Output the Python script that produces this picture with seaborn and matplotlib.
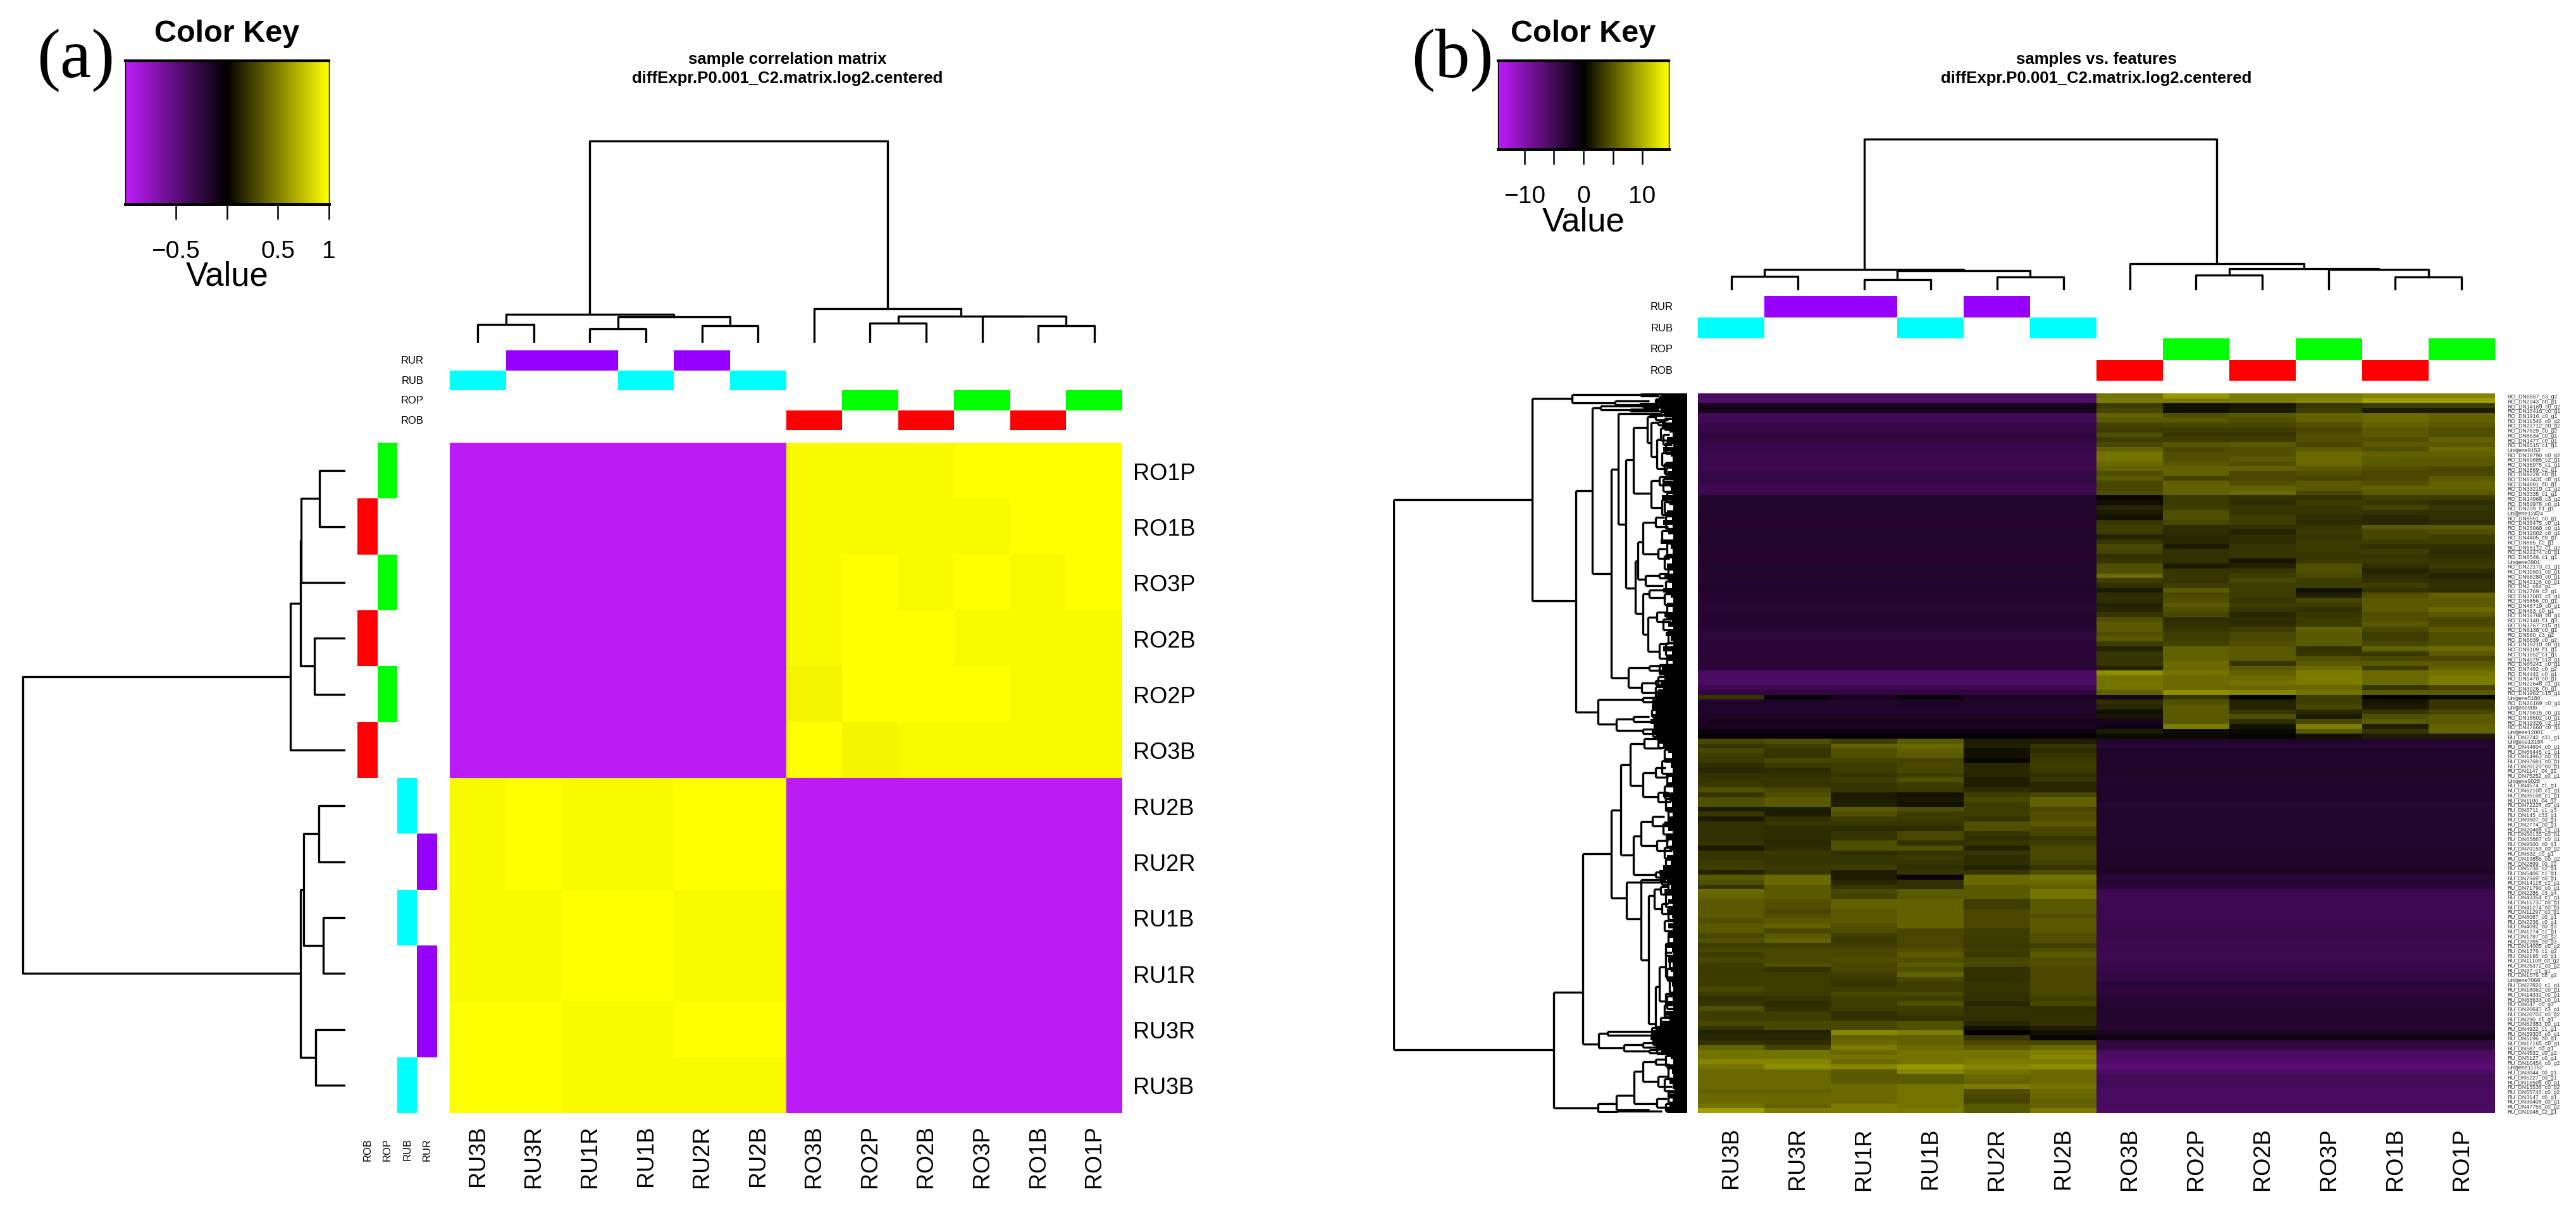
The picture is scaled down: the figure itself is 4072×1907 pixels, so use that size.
import numpy as np
import matplotlib
matplotlib.use("Agg")
import matplotlib.pyplot as plt
from matplotlib.colors import LinearSegmentedColormap, ListedColormap
import seaborn as sns

W, H = 4073, 1908

# ---------- panel (a) data ----------
a_cols = ["RU3B", "RU3R", "RU1R", "RU1B", "RU2R", "RU2B", "RO3B", "RO2P", "RO2B", "RO3P", "RO1B", "RO1P"]
a_rows = ["RO1P", "RO1B", "RO3P", "RO2B", "RO2P", "RO3B", "RU2B", "RU2R", "RU1B", "RU1R", "RU3R", "RU3B"]
a_anti = -0.98
a_ro_block = [[.975, .975, .975, 1, 1, 1],
              [.975, .975, .975, .975, 1, 1],
              [.975, 1, .975, 1, .975, 1],
              [.975, 1, 1, .975, .975, .975],
              [.955, 1, 1, 1, .975, .975],
              [1, .955, .975, .975, .975, .975]]
a_ru_block = [[.975, 1, .975, .975, 1, 1],
              [.975, 1, .975, .975, 1, 1],
              [.975, .975, 1, 1, .975, .975],
              [.975, .975, 1, 1, .975, .975],
              [1, 1, .975, .975, 1, 1],
              [1, 1, .975, .975, .975, .975]]

# dendrograms: (height, left, right); an int is a leaf position
a_col_tree = (321, (45, (29, 0, 1), (41, (22, 2, 3), (27, 4, 5))),
              (54, 6, (42.5, (31, 7, 8), (42, 9, (27, 10, 11)))))
a_row_tree = (512, (87, (71.5, (70, (41, 0, 1), 2), (49.5, 3, 4)), 5),
              (71, (66, (42, 6, 7), (35, 8, 9)), (47, 10, 11)))
b_col_tree = (241.5, (33.5, (22, 0, 1), (31, (17, 2, 3), (21, 4, 5))),
              (42, 6, (34.5, (24, 7, 8), (33.5, 9, (21, 10, 11)))))

# ---------- panel (b) data ----------
b_cols = ["RU3B", "RU3R", "RU1R", "RU1B", "RU2R", "RU2B", "RO3B", "RO2P", "RO2B", "RO3P", "RO1B", "RO1P"]
groups = ["RUR", "RUB", "ROP", "ROB"]
group_colors = ["#9600FF", "#00FFFF", "#00FF00", "#FF0000"]

upper_ru = [-5.6, -6, -1.8, -1.8, -4.9, -4.9, -4.4, -4, -3.6, -3.8, -4.1, -4.3, -4.6, -4.6, -4.7, -4.7, -4, -3.8, -4.1, -4.7, -4.6,
            -2.7, -2.7, -2.7, -2.5, -2.5, -2.7, -2.8, -2.7, -2.6, -2.6, -2.7, -2.7, -2.8, -2.8, -2.6, -2.7,
            -2.7, -2.7, -2.5, -2.3, -2.8, -2.8, -2.9, -2.9, -2.8, -2.8, -2.8, -3.1, -3.5, -3.4, -3.3, -3.5, -3.3, -3.1, -3.1, -3.3,
            -5.5, -5.7, -5.7, -4.7, -3.7]
upper_ro = [[6.5, 8.5, 7, 7, 7.5, 7.5], [7, 7, 7, 7.5, 9, 9], [3.5, 1, 1.2, 3, 3.5, 3.5], [4, 1, 1.5, 3.5, 1.5, 1.5],
            [5.5, 4.5, 5, 5.5, 6, 5.5], [5, 5, 4.5, 5.5, 6, 5.5], [3.8, 4, 4, 4.5, 5.5, 5], [3.5, 3.5, 3.5, 4, 5, 4.5],
            [4.5, 3, 3, 4.5, 5, 4.5], [3.5, 3.5, 3.5, 4.5, 4.5, 5.5], [4, 4.8, 5, 4, 5, 5], [5.5, 4, 4.5, 5, 4.5, 6],
            [6.5, 4.5, 4.5, 6, 5.5, 5.5], [6.5, 4.5, 5, 6, 5, 5], [6, 5, 4.5, 6, 5, 5], [5.5, 5.5, 5.5, 5, 4.5, 4],
            [4.5, 5.5, 4, 4.5, 4, 4], [5, 3.8, 4, 4, 4, 5], [4, 5.5, 4.5, 5, 4.5, 5.5], [4, 5.5, 5.5, 5, 5.5, 5.5],
            [4.5, 5.5, 6, 4, 5, 5], [.4, 3.2, 2.8, 2.8, 3.5, 3.5], [.8, 3.2, 2.5, 3.5, 3, 2.5], [2, 3.5, 3, 3, 3.8, 3],
            [1.5, 4.5, 3, 3, 2.8, 2.8], [1, 4.5, 3.5, 2.8, 2.2, 2.8], [3, 4, 3.5, 2.5, 2.2, 2.5], [3.5, 2.5, 2.8, 3, 5, 5],
            [3.5, 2.5, 2, 3.2, 4, 4.5], [2, 2.2, 2.5, 3, 4, 3.5], [3, 2.2, 2.5, 3.2, 3.5, 3.5], [4, 1.5, 3, 3.2, 2.8, 2.8],
            [3.8, 2.8, 3, 3.2, 3.5, 2.5], [2.8, 2.8, 3, 3, 3, 2.8], [3, 2.8, 1.2, 3.2, 3.2, 3], [4.5, 1.5, 2, 4.5, 2.5, 3.2],
            [4.5, 3, 3, 4.5, 2, 2.5], [6, 3, 3.5, 4, 2.5, 2], [3.5, 3, 4, 3.5, 2.8, 2.5], [2.8, 3.5, 3.5, 3.5, 3.5, 2.8],
            [1.5, 5, 3.5, 1, 2.8, 2.5], [2.5, 4, 3.5, 1.8, 4.5, 5.5], [2.5, 4.5, 3, 4, 5, 5], [2, 5, 3.5, 3.2, 5, 5],
            [2.2, 4.5, 3, 2.8, 5, 6], [3, 4, 2.2, 3, 4.5, 5], [4.5, 2.5, 2.5, 3.5, 4.5, 4], [5, 2.8, 2.5, 3.5, 5, 4],
            [5, 3, 3.5, 5.5, 4, 5], [4.5, 3.5, 4, 5, 3.5, 4.5], [5, 3.5, 4, 5, 3.5, 4.5], [3.5, 3.8, 4.5, 5, 4, 4.5],
            [2, 5.5, 5, 2.8, 5.5, 6], [3, 5.5, 5, 3, 3.2, 5], [3, 5.5, 5, 4.5, 4, 4], [3, 6, 3, 5, 5, 5],
            [2, 6, 5, 6, 3.5, 5.5], [8, 6.5, 5.5, 7, 6, 6.5], [6.5, 6, 6, 7, 6, 7], [6.5, 6, 6.5, 7, 6, 7],
            [6.5, 6, 6, 6, 3, 4], [5.5, 8, 7.5, 6.5, 5, 5]]
mid_rows = [[3, -.5, -1.8, -.5, -2.2, -2.2, -1.5, 3, .1, 3.5, .1, .5],
            [-2.4, -2.4, -2.4, -2.2, -2.4, -2.4, 2.5, 4.5, 2, 3.5, 1.2, 3],
            [-2.4, -2.4, -2.4, -2.4, -2.4, -2.4, 2.2, 5, 2, 4, 1.5, 3],
            [-2.6, -2.6, -2.6, -2.6, -2.6, -2.6, 1, 5, 3, 2.2, 3, 4],
            [-2, -2, -2, -2, -2, -2, 1.2, 5, 4.5, 1.5, 4.5, 5],
            [-1.8, -1.8, -1.8, -1.8, -1.8, -1.8, -1.8, 5, 2.5, 4, 5, 5],
            [-2, -2, -2, -2, -2, -2, -1.2, 7, 1, 7, 1.8, 5.5],
            [-.8, -.8, -.8, -.8, -.8, -.8, 1.5, .6, .5, 5, 3, 5.5],
            [-.3, -.3, -.3, -.3, -.3, -.3, .6, .6, .2, 1, 1.5, 1.5]]
lower_ru = [[4, 4.5, 3.5, 5, 1.5, 1.5], [3, 3.5, 5.5, 6, 1.8, 3], [4, 3, 4.5, 5.5, 1, 2.5], [3.5, 3, 4.5, 5, 1, 3],
            [3.2, 4, 3.8, 3.8, .4, 3.2], [2.5, 3.2, 3.5, 4, 2.2, 3.5], [2.2, 2.5, 3.5, 4, 2.2, 3.2], [2.8, 2.8, 3, 3.5, 2.2, 2.8],
            [3, 3, 3.5, 4.5, 1.8, 3], [3.2, 3, 3, 3.5, 1.8, 2.2], [4.5, 4, 3, 3.2, 2.5, 2.2], [3, 4.5, 1.5, 1, 3.5, 4],
            [4.5, 5, 1.5, 1.2, 4, 5.5], [4.5, 5, 1.8, 1, 3.5, 5.5], [1.5, 1.5, 5, 4.5, 3.5, 4], [3, 1.5, 4.5, 3.5, 3.5, 4.5],
            [1.5, 2.8, 3.5, 3.2, 3, 4.5], [2.8, 3, 3, 3, 4.5, 5], [2.8, 2.5, 2.5, 2.5, 4.5, 4], [2.8, 2.5, 3, 4, 3, 4],
            [2.8, 2.5, 3, 4, 2.8, 3], [3, 2.2, 4.5, 2.8, 3, 3.5], [1.5, 2.5, 4.5, 4.5, 2, 4], [3, 3.2, 2.5, 3, 3, 4],
            [3, 3, 3, 3.2, 2.5, 4], [3.2, 3, 3, 3, 2.5, 3.8], [3.5, 3.2, 3.5, 2.8, 2, 3], [2, 3, 1.5, 3, 3, 4.5],
            [5, 6, 1.5, -.8, 6, 6.5], [4.5, 6, 2.2, 2.8, 6, 6], [3, 5, 3, 2.8, 5, 5.5], [6, 5, 4, 5, 5, 6.5],
            [5.5, 5, 3.8, 5, 5, 6.5], [5, 4.5, 5.5, 5.5, 3.5, 5], [5, 4.5, 5.5, 5.5, 3.5, 5], [5, 4, 5, 5.5, 4, 5],
            [5, 4.5, 5, 5.5, 4, 4.5], [4.5, 5, 5, 5.5, 4, 5], [5, 5.5, 4.5, 5.5, 4, 5], [5, 4, 4.5, 4, 3.5, 5],
            [4, 5, 3.5, 4, 3.5, 4.5], [4.5, 5.5, 3.2, 4, 3.5, 4.5], [3.5, 3.5, 3.5, 4, 3.2, 3.5], [4, 4, 4, 4.5, 3.5, 4.5],
            [3.5, 4, 4, 5, 3.2, 5], [4, 4, 4.5, 4.5, 4, 4.5], [3.5, 4.5, 4, 5, 4, 4.5], [3.2, 2.8, 4, 4.5, 2.8, 4],
            [3.2, 3.5, 3.5, 5.5, 2.8, 4], [3.5, 3.5, 3.2, 4, 2.8, 4], [3.5, 3.5, 3, 3.5, 3, 4], [4, 3.5, 3.5, 3.5, 3, 4],
            [3.5, 3.2, 4, 4, 2.8, 4], [2.8, 3, 3.5, 3.5, 2.8, 3.5], [3, 2.5, 3.5, 4.5, 2.2, 4], [4.5, 2.8, 3.5, 3.5, 2.8, 2.5],
            [3.5, 3.5, 2.8, 3.2, 2.8, 2.8], [3.5, 3.5, 2.8, 2.8, 2.8, 2.8], [4, 4, 4, 4.5, 2.2, 2.8], [3, 4, 4, 4.5, 1, 1.8],
            [2, 2, 7.5, 7, -.3, 1], [2.2, 2.2, 5.5, 5.5, 3, -.5], [2.8, 2.5, 6, 5.5, 4, 4], [5.5, 3.8, 7, 6, 5, 6],
            [6.5, 6.5, 6, 6.5, 6.5, 7], [6.5, 6.5, 6.5, 6.5, 6.5, 7.5], [7.5, 7.5, 6, 6.5, 7, 7], [6.5, 8, 7.5, 8.5, 7.5, 8],
            [6, 6, 5, 7.5, 6.5, 6], [6, 6, 5, 5, 6, 6], [6, 6, 5, 5, 5.5, 6], [6, 6, 6, 6.5, 7, 6.5],
            [5.5, 5.5, 6, 6.5, 4.5, 6], [6, 6, 6, 6.5, 4, 6], [6, 6, 6, 6.5, 3.8, 5.5], [6.5, 5.5, 7, 6.5, 5, 5.5],
            [9, 7, 7, 7, 5, 7]]
lower_ro = [-2.4, -3, -2.4, -2.4, -2.4, -2.4, -2.4, -2.3, -2.5, -2.5, -2.4, -2.4, -2.4, -3, -2.7, -2.7, -2.7, -2.6, -2.6, -2.6,
            -2.6, -2.6, -2.5, -2.3, -2.3, -2.4, -2.4, -2.2, -3.2, -3, -3.3, -4.6, -4.7, -4.7, -4.7, -4.7, -4.7, -4.7, -4.6, -4.4,
            -4.4, -4.6, -4.6, -4.6, -4.7, -4.6, -4.4, -4.4, -3.9, -3.9, -3.3, -3.6, -3.5, -3, -2.8, -2.8, -2.7, -2.7, -2.8, -2.7,
            -2, -1.2, -3.8, -3.8, -5.5, -5.8, -6.3, -6.8, -5.8, -5, -5, -5.3, -5.5, -5.5, -5.5, -5.5, -5.8]

b_row_labels = """RO_DN6667_c3_g2 RO_DN2043_c0_g1 RO_DN14169_c0_g2 RO_DN15416_c0_g1 RO_DN1916_c0_g1 RO_DN11546_c0_g2
RO_DN22712_c0_g2 RO_DN7829_c0_g2 RO_DN8634_c0_g1 RO_DN1477_c0_g1 RO_DN6515_c1_g1 Unigene9153 RO_DN39790_c0_g2
RO_DN60885_c2_g1 RO_DN35975_c1_g1 RO_DN2869_c2_g1 RO_DN9229_c0_g1 RO_DN63431_c0_g1 RO_DN4991_c0_g1 RO_DN33219_c1_g2
RO_DN3335_c1_g1 RO_DN14968_c3_g2 RO_DN80978_c0_g1 RO_DN209_c1_g1 Unigene12424 RO_DN8551_c0_g1 RO_DN38475_c0_g1
RO_DN26068_c0_g1 RO_DN12602_c0_g1 RO_DN4405_c9_g1 RO_DN885_c2_g1 RO_DN55172_c1_g2 RO_DN22274_c0_g1 RO_DN6546_c1_g1
Unigene3901 RO_DN22173_c1_g1 RO_DN11501_c0_g1 RO_DN68280_c0_g1 RO_DN42116_c0_g1 RO_DN2_c84_g1 RO_DN2769_c2_g1
RO_DN37001_c1_g1 RO_DN5856_c0_g1 RO_DN45719_c0_g1 RO_DN463_c0_g1 RO_DN16768_c0_g1 RO_DN2140_c1_g3 RO_DN3767_c15_g1
RO_DN6138_c0_g1 RO_DN560_c3_g2 RO_DN6839_c0_g2 RO_DN19210_c0_g1 RO_DN9109_c1_g1 RO_DN1552_c1_g1 RO_DN4079_c13_g1
RO_DN65241_c0_g1 RO_DN7492_c0_g2 RO_DN4442_c0_g1 RO_DN5470_c0_g1 RO_DN22648_c1_g1 RO_DN3026_c0_g1 RO_DN1962_c15_g1
Unigene5180 RO_DN26169_c0_g1 Unigene909 RO_DN79615_c0_g1 RO_DN18502_c0_g1 RO_DN19326_c2_g2 RO_DN47660_c0_g1
Unigene12081 RU_DN2742_c31_g1 Unigene13164 RU_DN44604_c0_g1 RU_DN66445_c1_g1 RU_DN14963_c0_g1 RU_DN97681_c0_g1
RU_DN20120_c0_g1 RU_DN1147_c4_g1 RU_DN75252_c0_g1 Unigene9028 RU_DN4574_c1_g1 RU_DN62100_c1_g1 RU_DN35108_c1_g1
RU_DN1100_c4_g2 RU_DN72224_c0_g1 RU_DN6711_c1_g3 RU_DN145_c33_g1 RU_DN9507_c0_g1 RU_DN2774_c0_g1 RU_DN20468_c1_g1
RU_DN50135_c0_g1 RU_DN65887_c0_g1 RU_DN9500_c0_g1 RU_DN70153_c0_g2 RU_DN632_c0_g1 RU_DN19856_c0_g2 RU_DN2899_c0_g2
RU_DN5736_c2_g1 RU_DN5406_c1_g1 RU_DN7569_c0_g1 RU_DN14118_c1_g1 RU_DN71790_c0_g1 RU_DN2286_c3_g4 RU_DN43354_c1_g1
RU_DN15737_c0_g1 RU_DN41274_c0_g1 RU_DN11297_c0_g1 RU_DN8087_c0_g1 RU_DN2236_c0_g1 RU_DN4092_c0_g3 RU_DN1274_c1_g1
RU_DN1787_c0_g2 RU_DN2265_c0_g3 RU_DN14005_c0_g2 RU_DN1276_c1_g2 RU_DN2195_c0_g1 RU_DN11109_c0_g2 RU_DN25372_c0_g2
RU_DN37_c1_g1 RU_DN1576_c8_g2 Unigene7069 RU_DN27820_c1_g1 RU_DN18062_c0_g1 RU_DN14332_c0_g1 RU_DN63633_c0_g1
RU_DN647_c0_g3 RU_DN20647_c3_g1 RU_DN20703_c0_g2 RU_DN290_c1_g1 RU_DN62383_c0_g1 RU_DN4922_c1_g1 RU_DN39303_c0_g1
RU_DN5196_c0_g1 RU_DN17165_c0_g1 RU_DN587_c0_g1 RU_DN4531_c0_g2 RU_DN5127_c0_g1 RU_DN10454_c0_g2 Unigene11782
RU_DN3044_c0_g1 RU_DN5227_c0_g1 RU_DN16505_c0_g1 RU_DN15538_c0_g2 RU_DN55745_c0_g2 RU_DN3147_c0_g1 RU_DN30406_c0_g1
RU_DN47755_c0_g2 RU_DN1048_c2_g1""".split()

# merge heights of the big row dendrogram: (height, row position, [children])
b_row_tree = (465, 78, [
    (245.5, 21.8, [
        (182, 1, [(74, .2, [(40, .1), (45, .5)]), (114, 1.9, [(60, 1.5), (75, 2.3, [(45, 2.1), (40, 2.5)])])]),
        (176, 42.7, [
            (150, 20, [
                (137, 3, [(70, 2.6, [(42, 2.5), (38, 2.8)]), (90, 3.4, [(45, 3.2), (40, 3.6)])]),
                (120.5, 37, [
                    (109, 15.6, [
                        (60, 4.2, [(40, 4.1), (32, 4.4)]),
                        (97, 26.9, [
                            (85, 13.7, [
                                (63, 7, [(50, 4.8, [(38, 4.5), (30, 5.5)]),
                                         (57, 10.2, [(46, 6, [(34, 5.8), (28, 6.5)]),
                                                     (48, 13, [(38, 9.5, [(28, 8.5), (24, 10.5)]),
                                                               (36, 15.5, [(26, 14.5), (22, 16.5)])])])]),
                                (57, 20.5, [(44, 18, [(32, 17.2), (26, 18.8, [(20, 18.5), (18, 19.2)])]),
                                            (40, 23.5, [(30, 21.8), (24, 25)])])]),
                            (82, 40, [
                                (78, 34.4, [(70, 30.5, [(50, 26.5, [(36, 25.5), (30, 27.5)]),
                                                        (46, 33, [(34, 32), (28, 34)])]),
                                            (66, 38.2, [(44, 37.5, [(30, 37), (24, 38)]), (38, 39.5)])]),
                                (70, 45.2, [(60, 41.2, [(38, 40.5), (34, 42)]),
                                            (62, 49.6, [(48, 46, [(34, 45), (26, 47)]),
                                                        (44, 53, [(30, 51.5), (26, 54.5)])])])])])]),
                    (93, 58.5, [(60, 56.5, [(40, 56), (34, 57)]),
                                (72, 60.5, [(50, 59.5, [(36, 59), (30, 60)]), (46, 61.5, [(34, 61), (28, 62)])])])])]),
            (141, 65.5, [(70, 63, [(50, 62.5), (46, 63.5)]),
                         (112, 68, [(85, 67, [(60, 66.5), (52, 67.5)]), (70, 69.3, [(50, 69), (45, 70)])])])])]),
    (211, 135, [
        (165, 123.2, [
            (120.5, 94.7, [
                (105, 85.7, [
                    (90, 76.3, [(68, 72, [(46, 71), (40, 73)]),
                                (70, 80.6, [(50, 78, [(34, 77), (30, 79)]), (46, 83, [(30, 82), (26, 84)])])]),
                    (85, 95, [(73, 91, [(55, 88, [(36, 87), (30, 89)]), (48, 93, [(30, 92), (24, 94)])]),
                              (50, 99, [(38, 98.5), (34, 99.5)])])]),
                (96, 103.8, [
                    (40, 100.5, [(34, 100), (30, 101)]),
                    (73, 108.1, [
                        (42, 100, [(30, 99.8), (26, 100.5)]),
                        (61, 116.5, [
                            (52, 103.3, [(42, 102, [(30, 101.5), (24, 103)]), (40, 106, [(30, 105), (22, 107)])]),
                            (50, 129.7, [(44, 122, [(34, 118, [(24, 115), (20, 120)]), (32, 125, [(22, 124), (20, 126.5)])]),
                                         (36, 130.5, [(26, 130), (24, 131)])])])])])]),
            (140, 133.8, [(126, 131.6, [(52, 131.2), (46, 132)]),
                          (100, 134.6, [(70, 134, [(50, 133.5), (44, 134.5)]), (60, 135.2, [(44, 135), (38, 135.6)])])])]),
        (141.5, 147, [
            (112, 146, [(84, 144.3, [(70, 139.4, [(50, 137.5, [(34, 137), (28, 138)]), (46, 141.5, [(30, 140.5), (24, 142.5)])]),
                                     (48, 146, [(32, 145), (26, 146.8)])]),
                        (60, 147.4)]),
            (110, 147.7, [(40, 147.6)])])])])

# small low merges near the leaves: (height, first row, second row)
b_row_forks = [(44, 0.6, 1.4), (50, 1.2, 2.8), (38, 3.1, 3.9), (36, 5.2, 7.4), (42, 7.2, 9.6), (34, 10.2, 12.4), (40, 12.2, 14.8),
               (33, 15.2, 17.2), (38, 17.6, 20.2), (32, 20.4, 22.4), (36, 22.2, 24.6), (34, 25.2, 27.8), (40, 28.2, 30.6),
               (32, 30.8, 33.2), (36, 33.4, 36.2), (30, 36.2, 38.4), (34, 38.6, 40.8), (36, 41.2, 43.4), (32, 43.6, 46.2),
               (38, 46.4, 48.6), (30, 48.8, 51.2), (34, 51.4, 53.8), (32, 54, 55.8), (44, 55.8, 57.6), (46, 58.2, 60.2),
               (50, 60.4, 62.4), (54, 62.6, 64.8), (56, 65, 66.4), (52, 66.8, 68.8), (54, 69, 70.6), (46, 71.2, 72.8),
               (36, 73.2, 75.4), (40, 75.6, 78.2), (32, 78.4, 80.6), (36, 80.8, 83.2), (34, 83.4, 85.8), (30, 86, 88.2),
               (38, 88.4, 90.6), (32, 90.8, 93.2), (36, 93.4, 95.6), (34, 95.8, 98.2), (42, 98.4, 100.4), (30, 100.6, 102.8),
               (34, 103, 105.6), (30, 105.8, 108.2), (36, 108.4, 110.6), (30, 110.8, 113), (34, 113.2, 115.6), (28, 115.8, 118.2),
               (32, 118.4, 120.6), (28, 120.8, 123.2), (34, 123.4, 125.6), (36, 125.8, 128.2), (42, 128.4, 130.2),
               (56, 130.4, 132), (54, 132.2, 134), (48, 134.2, 135.8), (34, 136.2, 138.4), (30, 138.6, 140.8),
               (36, 141, 143.4), (30, 143.6, 145.8), (34, 146, 147.6)]

# leaf stem lengths of that dendrogram, one per row
b_leaf_stems = [42, 48, 44, 42,
                36, 24, 40, 28, 23, 32, 22, 38, 26, 23, 34, 24, 30, 22, 36, 26, 23,
                40, 28, 22, 32, 24, 38, 23, 30, 22, 42, 26, 23, 34, 24, 32, 22, 36, 28,
                24, 38, 26, 22, 32, 23, 36, 24, 30, 22, 34, 26, 22, 38, 24, 30, 23,
                40, 44, 36, 42, 38, 44, 50,
                52, 56, 50, 54, 58, 52, 56, 50, 44,
                38, 30, 24, 36, 26, 23, 34, 24, 30, 22, 38, 28, 24, 32, 23, 28, 36,
                30, 23, 34, 24, 28, 22, 32, 26, 38, 44, 40, 32, 26, 36, 24, 30,
                23, 32, 24, 22, 30, 23, 28, 22, 34, 24, 22, 30, 23, 26, 22, 32, 24, 22, 28, 23, 30, 22, 36, 28, 40, 50, 56,
                58, 52, 50, 42,
                26, 22, 32, 24, 22, 28, 23, 20, 30, 23, 28, 32]

# ---------- style ----------
sns.set_theme(style="white")
plt.rcParams["font.family"] = ["Liberation Sans", "DejaVu Sans"]
plt.rcParams["axes.unicode_minus"] = True
plt.rcParams["text.color"] = "black"
plt.rcParams["xtick.color"] = "black"
plt.rcParams["ytick.color"] = "black"
plt.rcParams["xtick.labelcolor"] = "black"
plt.rcParams["ytick.labelcolor"] = "black"
cmap = LinearSegmentedColormap.from_list("pby", ["#BE1CFA", "#000000", "#FFFF00"])
side_cmap = ListedColormap(group_colors)
LW = 2.4

fig = plt.figure(figsize=(W / 100, H / 100), dpi=100, facecolor="white")


def box(x0, y0, x1, y1):
    return fig.add_axes([x0 / W, 1 - y1 / H, (x1 - x0) / W, (y1 - y0) / H])


def ftext(x, y, s, **kw):
    fig.text(x / W, 1 - y / H, s, **kw)


def tree_pos(node, segs):
    if isinstance(node, int):
        return node + .5, 0
    h, l, r = node
    pl, hl = tree_pos(l, segs)
    pr, hr = tree_pos(r, segs)
    segs.append(([pl, pl, pr, pr], [hl, h, h, hr]))
    return (pl + pr) / 2, h


def sample_dendro(ax, tree, n, vertical=False):
    segs = []
    tree_pos(tree, segs)
    for pos, hgt in segs:
        if vertical:
            sns.lineplot(x=hgt, y=pos, ax=ax, color="black", lw=LW, sort=False, estimator=None)
        else:
            sns.lineplot(x=pos, y=hgt, ax=ax, color="black", lw=LW, sort=False, estimator=None)
    if vertical:
        ax.set_ylim(n, 0)
        ax.set_xlim(tree[0] + 2, 0)
    else:
        ax.set_xlim(0, n)
        ax.set_ylim(0, tree[0] + 2)
    ax.axis("off")


def side_matrix(names):
    m = np.full((len(groups), len(names)), np.nan)
    for j, s in enumerate(names):
        m[groups.index(s[:2] + s[-1]), j] = groups.index(s[:2] + s[-1])
    return m


def color_key(x0, y0, x1, y1, lo, hi, ticks, labels, tick_y_pad, val_y, title_x):
    ax = box(x0, y0, x1, y1)
    edges = np.linspace(lo, hi, 257)
    ax.pcolormesh(edges, [0, 1], ((edges[:-1] + edges[1:]) / 2)[None, :], cmap=cmap, vmin=-max(abs(lo), hi), vmax=max(abs(lo), hi))
    ax.set_yticks([])
    ax.set_xticks(ticks)
    ax.set_xticklabels(labels, fontsize=28)
    ax.tick_params(axis="x", bottom=True, length=17.5, width=1.8, color="black", pad=tick_y_pad, labelcolor="black")
    for k, lw in dict(top=3, bottom=3.5, left=1, right=1).items():
        ax.spines[k].set_visible(True)
        ax.spines[k].set_linewidth(lw)
        ax.spines[k].set_color("black")
    ftext(title_x, 54, "Color Key", fontsize=35, fontweight="bold", ha="center", va="center")
    ftext(title_x, val_y, "Value", fontsize=38, ha="center", va="center")


# ---------- panel (a) ----------
ftext(58, 122, "(a)", fontsize=80, family="Liberation Serif", ha="left", va="baseline")
color_key(198, 97, 520, 324, -0.994, 1, [-.5, 0, .5, 1], ["\u22120.5", "", "0.5", "1"], 23, 438, 359)
ftext(1245, 94, "sample correlation matrix", fontsize=18.5, fontweight="bold", ha="center", va="center")
ftext(1245, 124, "diffExpr.P0.001_C2.matrix.log2.centered", fontsize=18.5, fontweight="bold", ha="center", va="center")

a_matrix = np.block([[np.full((6, 6), a_anti), np.array(a_ro_block)],
                     [np.array(a_ru_block), np.full((6, 6), a_anti)]])
ax = box(711, 701, 1774, 1761)
sns.heatmap(a_matrix, ax=ax, cmap=cmap, vmin=-1, vmax=1, cbar=False, xticklabels=a_cols, yticklabels=a_rows)
ax.yaxis.tick_right()
ax.tick_params(axis="x", length=0, pad=13.5, labelsize=26, rotation=90)
ax.tick_params(axis="y", length=0, pad=12, labelsize=26, rotation=0)

ax = box(711, 222, 1774, 543)
sample_dendro(ax, a_col_tree, 12)
ax = box(34, 701, 546, 1761)
sample_dendro(ax, a_row_tree, 12, vertical=True)

ax = box(711, 555, 1774, 681)
sns.heatmap(side_matrix(a_cols), ax=ax, cmap=side_cmap, vmin=-.5, vmax=3.5, cbar=False, xticklabels=False, yticklabels=groups)
ax.tick_params(axis="y", length=0, pad=29.5, labelsize=12, rotation=0)

ax = box(565, 701, 691, 1761)
sns.heatmap(side_matrix(a_rows).T[:, ::-1], ax=ax, cmap=side_cmap, vmin=-.5, vmax=3.5, cbar=False,
            xticklabels=groups[::-1], yticklabels=False)
ax.tick_params(axis="x", length=0, pad=28, labelsize=12, rotation=90)

# ---------- panel (b) ----------
ftext(2231, 122, "(b)", fontsize=80, family="Liberation Serif", ha="left", va="baseline")
color_key(2368, 97, 2638, 237, -14.5, 14.5, [-10, -5, 0, 5, 10], ["\u221210", "", "0", "", "10"], 23, 351, 2503)
ftext(3314, 94, "samples vs. features", fontsize=18.5, fontweight="bold", ha="center", va="center")
ftext(3314, 124, "diffExpr.P0.001_C2.matrix.log2.centered", fontsize=18.5, fontweight="bold", ha="center", va="center")

b_matrix = np.vstack([np.column_stack([np.tile(np.array(upper_ru)[:, None], (1, 6)), np.array(upper_ro)]),
                      np.array(mid_rows),
                      np.column_stack([np.array(lower_ru), np.tile(np.array(lower_ro)[:, None], (1, 6))])])
n_b = b_matrix.shape[0]
ax = box(2684, 623, 3944, 1761)
sns.heatmap(b_matrix, ax=ax, cmap=cmap, vmin=-14.5, vmax=14.5, cbar=False, xticklabels=b_cols, yticklabels=False)
ax.yaxis.tick_right()
ax.set_yticks((np.arange(len(b_row_labels)) + .5) * n_b / len(b_row_labels))
ax.set_yticklabels(b_row_labels, fontsize=6.3, color="#333333")
ax.tick_params(axis="x", length=0, pad=16, labelsize=26, rotation=90)
ax.tick_params(axis="y", length=0, pad=14, rotation=0)

ax = box(2684, 219, 3944, 460)
sample_dendro(ax, b_col_tree, 12)

ax = box(2684, 469, 3944, 603)
sns.heatmap(side_matrix(b_cols), ax=ax, cmap=side_cmap, vmin=-.5, vmax=3.5, cbar=False, xticklabels=False, yticklabels=groups)
ax.tick_params(axis="y", length=0, pad=28, labelsize=12, rotation=0)

ax = box(2202, 623, 2667, 1761)


def draw_rows(node):
    h, r = node[0], node[1]
    kids = node[2] if len(node) > 2 else []
    if kids:
        rows = [k[1] for k in kids]
        ax.vlines(h, min(rows), max(rows), color="black", lw=LW)
        for k in kids:
            ax.hlines(k[1], k[0], h, color="black", lw=LW)
            draw_rows(k)


draw_rows(b_row_tree)
for fh, r0, r1 in b_row_forks:
    ax.vlines(fh, r0, r1, color="black", lw=LW)
    ax.hlines([r0, r1], 0, fh, color="black", lw=LW)
ax.barh(np.arange(len(b_leaf_stems)) + .5, b_leaf_stems, height=1.0, color="black", linewidth=0)
ax.set_xlim(466, 0)
ax.set_ylim(n_b, 0)
ax.axis("off")

print(n_b, len(b_row_labels), len(b_leaf_stems), len(lower_ro), len(upper_ru))
fig.savefig("out.png", dpi=100, facecolor="white")
